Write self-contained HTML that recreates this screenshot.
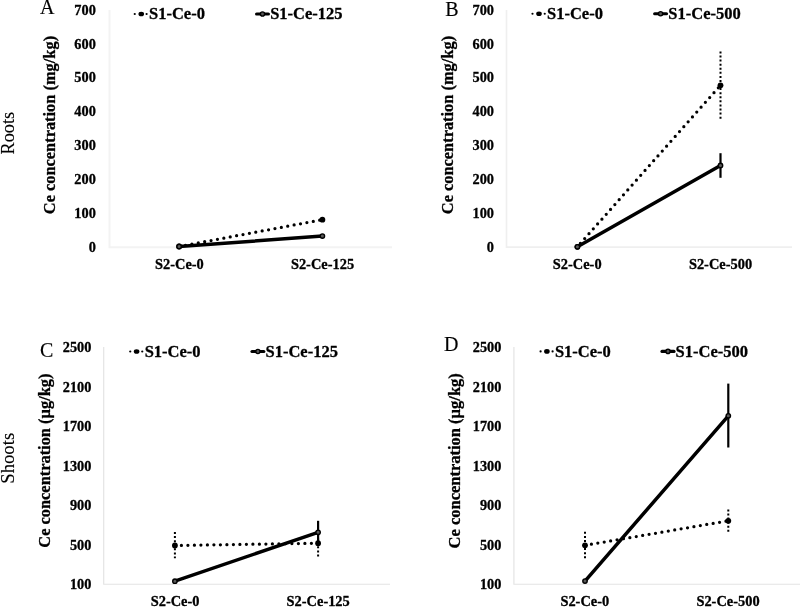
<!DOCTYPE html>
<html lang="en"><head><meta charset="utf-8"><title>Ce concentration in roots and shoots</title>
<style>
html,body{margin:0;padding:0;background:#fff;overflow:hidden;}
svg{display:block;font-family:"Liberation Serif","Times New Roman",Times,serif;}
text{fill:#000;stroke:#000;stroke-width:0.3px;stroke-linejoin:round;}
.pl,.rl{stroke-width:0.15px;}
.pl{font-size:20px;}
.rl{font-size:18.2px;}
.tk{font-size:14.3px;font-weight:bold;}
.xk{font-size:14.4px;font-weight:bold;}
.lg{font-size:16.5px;font-weight:bold;}
.yt{font-size:16.3px;font-weight:bold;}
.dl{stroke:#000;stroke-width:3.25;stroke-dasharray:0 6.5;stroke-linecap:round;}
.de{stroke:#000;stroke-width:2;stroke-dasharray:2 2.08;}
.sl{stroke:#000;stroke-width:3.5;stroke-linecap:round;}
.ll{stroke:#000;stroke-width:3.2;stroke-linecap:round;}
.se{stroke:#000;stroke-width:2.2;}
.om{fill:#5a5a5a;stroke:#000;stroke-width:1.4;}
</style></head><body>
<svg width="800" height="607" viewBox="0 0 800 607">
<rect width="800" height="607" fill="#fff"/>
<g>
<text x="40.1" y="14" class="pl">A</text>
<path d="M109.5 10V247.2H392" fill="none" stroke="#f3f3f3" stroke-width="2"/>
<text x="95.8" y="251.65" class="tk" text-anchor="end">0</text>
<text x="95.8" y="217.81" class="tk" text-anchor="end">100</text>
<text x="95.8" y="183.97" class="tk" text-anchor="end">200</text>
<text x="95.8" y="150.13" class="tk" text-anchor="end">300</text>
<text x="95.8" y="116.29" class="tk" text-anchor="end">400</text>
<text x="95.8" y="82.45" class="tk" text-anchor="end">500</text>
<text x="95.8" y="48.61" class="tk" text-anchor="end">600</text>
<text x="95.8" y="14.77" class="tk" text-anchor="end">700</text>
<text x="179.4" y="268.7" class="xk" text-anchor="middle">S2-Ce-0</text>
<text x="322.5" y="268.7" class="xk" text-anchor="middle">S2-Ce-125</text>
<text transform="translate(55.1 214.2) rotate(-90)" class="yt" textLength="178.3" lengthAdjust="spacingAndGlyphs">Ce concentration (mg/kg)</text>
<circle cx="134.75" cy="14" r="1.1" fill="#000"/>
<circle cx="146.6" cy="14" r="1.1" fill="#000"/>
<ellipse cx="141.25" cy="14" rx="2.8" ry="2.3" fill="#000"/>
<text x="149" y="19.1" class="lg">S1-Ce-0</text>
<line x1="256.6" y1="14" x2="268.4" y2="14" class="ll"/>
<circle cx="262.5" cy="14" r="2.1" class="om"/>
<text x="270.2" y="19.1" class="lg">S1-Ce-125</text>
<line x1="179.1" y1="246.5" x2="322.4" y2="219.7" class="dl" stroke-dashoffset="0"/>
<circle cx="179.1" cy="246.5" r="2.9" fill="#000"/>
<circle cx="322.4" cy="219.7" r="2.9" fill="#000"/>
<line x1="179.1" y1="246.5" x2="322.4" y2="236.1" class="sl"/>
<circle cx="179.1" cy="246.5" r="2.2" class="om"/>
<circle cx="322.4" cy="236.1" r="2.2" class="om"/>
</g>
<g>
<text x="445.3" y="15.6" class="pl">B</text>
<path d="M506.5 10V247.1H792" fill="none" stroke="#efefef" stroke-width="1.6"/>
<text x="494" y="251.65" class="tk" text-anchor="end">0</text>
<text x="494" y="217.81" class="tk" text-anchor="end">100</text>
<text x="494" y="183.97" class="tk" text-anchor="end">200</text>
<text x="494" y="150.13" class="tk" text-anchor="end">300</text>
<text x="494" y="116.29" class="tk" text-anchor="end">400</text>
<text x="494" y="82.45" class="tk" text-anchor="end">500</text>
<text x="494" y="48.61" class="tk" text-anchor="end">600</text>
<text x="494" y="14.77" class="tk" text-anchor="end">700</text>
<text x="577.2" y="268.7" class="xk" text-anchor="middle">S2-Ce-0</text>
<text x="720.5" y="268.7" class="xk" text-anchor="middle">S2-Ce-500</text>
<text transform="translate(453.1 214.2) rotate(-90)" class="yt" textLength="178.3" lengthAdjust="spacingAndGlyphs">Ce concentration (mg/kg)</text>
<circle cx="532.5" cy="13.75" r="1.1" fill="#000"/>
<circle cx="544.75" cy="13.75" r="1.1" fill="#000"/>
<ellipse cx="539" cy="13.75" rx="2.8" ry="2.3" fill="#000"/>
<text x="547" y="18.85" class="lg">S1-Ce-0</text>
<line x1="654.7" y1="13.75" x2="666.5" y2="13.75" class="ll"/>
<circle cx="660.6" cy="13.75" r="2.1" class="om"/>
<text x="668.3" y="18.85" class="lg">S1-Ce-500</text>
<line x1="577.4" y1="246.8" x2="720.5" y2="85.3" class="dl" stroke-dashoffset="2.03"/>
<line x1="720.5" y1="51.4" x2="720.5" y2="119.6" class="de"/>
<circle cx="577.4" cy="246.8" r="2.9" fill="#000"/>
<circle cx="720.5" cy="85.3" r="2.9" fill="#000"/>
<line x1="577.4" y1="246.8" x2="720.5" y2="165.5" class="sl"/>
<line x1="720.5" y1="153.2" x2="720.5" y2="177.8" class="se"/>
<circle cx="577.4" cy="246.8" r="2.2" class="om"/>
<circle cx="720.5" cy="165.5" r="2.2" class="om"/>
</g>
<g>
<text x="40" y="357.2" class="pl">C</text>
<path d="M103.7 347V584.25H390" fill="none" stroke="#e4e4e4" stroke-width="1.2"/>
<text x="91.4" y="589.15" class="tk" text-anchor="end">100</text>
<text x="91.4" y="549.68" class="tk" text-anchor="end">500</text>
<text x="91.4" y="510.21" class="tk" text-anchor="end">900</text>
<text x="91.4" y="470.74" class="tk" text-anchor="end">1300</text>
<text x="91.4" y="431.27" class="tk" text-anchor="end">1700</text>
<text x="91.4" y="391.8" class="tk" text-anchor="end">2100</text>
<text x="91.4" y="352.33" class="tk" text-anchor="end">2500</text>
<text x="175.1" y="605.8" class="xk" text-anchor="middle">S2-Ce-0</text>
<text x="318.2" y="605.8" class="xk" text-anchor="middle">S2-Ce-125</text>
<text transform="translate(49.9 547.7) rotate(-90)" class="yt" textLength="174.2" lengthAdjust="spacingAndGlyphs">Ce concentration (µg/kg)</text>
<circle cx="130.25" cy="351.5" r="1.1" fill="#000"/>
<circle cx="142.25" cy="351.5" r="1.1" fill="#000"/>
<ellipse cx="136.6" cy="351.5" rx="2.8" ry="2.3" fill="#000"/>
<text x="144.7" y="356.6" class="lg">S1-Ce-0</text>
<line x1="252" y1="351.5" x2="263.8" y2="351.5" class="ll"/>
<circle cx="257.9" cy="351.5" r="2.1" class="om"/>
<text x="265.5" y="356.6" class="lg">S1-Ce-125</text>
<line x1="174.9" y1="545.5" x2="318.1" y2="543.2" class="dl" stroke-dashoffset="0"/>
<line x1="174.9" y1="532" x2="174.9" y2="558.3" class="de"/>
<line x1="318.1" y1="530" x2="318.1" y2="556.4" class="de"/>
<circle cx="174.9" cy="545.5" r="2.9" fill="#000"/>
<circle cx="318.1" cy="543.2" r="2.9" fill="#000"/>
<line x1="174.9" y1="581.2" x2="318.1" y2="532.3" class="sl"/>
<line x1="318.1" y1="520.8" x2="318.1" y2="544.6" class="se"/>
<circle cx="174.9" cy="581.2" r="2.2" class="om"/>
<circle cx="318.1" cy="532.3" r="2.2" class="om"/>
</g>
<g>
<text x="444" y="350.6" class="pl">D</text>
<path d="M513.9 347V584.25H800" fill="none" stroke="#e4e4e4" stroke-width="1.2"/>
<text x="501.4" y="589.15" class="tk" text-anchor="end">100</text>
<text x="501.4" y="549.68" class="tk" text-anchor="end">500</text>
<text x="501.4" y="510.21" class="tk" text-anchor="end">900</text>
<text x="501.4" y="470.74" class="tk" text-anchor="end">1300</text>
<text x="501.4" y="431.27" class="tk" text-anchor="end">1700</text>
<text x="501.4" y="391.8" class="tk" text-anchor="end">2100</text>
<text x="501.4" y="352.33" class="tk" text-anchor="end">2500</text>
<text x="584.8" y="605.8" class="xk" text-anchor="middle">S2-Ce-0</text>
<text x="728" y="605.8" class="xk" text-anchor="middle">S2-Ce-500</text>
<text transform="translate(459.9 548.4) rotate(-90)" class="yt" textLength="175.2" lengthAdjust="spacingAndGlyphs">Ce concentration (µg/kg)</text>
<circle cx="540.6" cy="351.4" r="1.1" fill="#000"/>
<circle cx="552.6" cy="351.4" r="1.1" fill="#000"/>
<ellipse cx="546.9" cy="351.4" rx="2.8" ry="2.3" fill="#000"/>
<text x="554.9" y="356.5" class="lg">S1-Ce-0</text>
<line x1="662" y1="351.4" x2="674" y2="351.4" class="ll"/>
<circle cx="668" cy="351.4" r="2.1" class="om"/>
<text x="675.6" y="356.5" class="lg">S1-Ce-500</text>
<line x1="585" y1="545.3" x2="728.3" y2="520.8" class="dl" stroke-dashoffset="0"/>
<line x1="585" y1="531.8" x2="585" y2="558.6" class="de"/>
<line x1="728.3" y1="509.4" x2="728.3" y2="531.8" class="de"/>
<circle cx="585" cy="545.3" r="2.9" fill="#000"/>
<circle cx="728.3" cy="520.8" r="2.9" fill="#000"/>
<line x1="585" y1="581.1" x2="728.3" y2="415.8" class="sl"/>
<line x1="728.3" y1="383.6" x2="728.3" y2="447.5" class="se"/>
<circle cx="585" cy="581.1" r="2.2" class="om"/>
<circle cx="728.3" cy="415.8" r="2.2" class="om"/>
</g>
<text transform="translate(14.4 133.2) rotate(-90)" class="rl" text-anchor="middle">Roots</text>
<text transform="translate(13.8 458.3) rotate(-90)" class="rl" style="font-size:18.7px" text-anchor="middle">Shoots</text>
</svg>
</body></html>
